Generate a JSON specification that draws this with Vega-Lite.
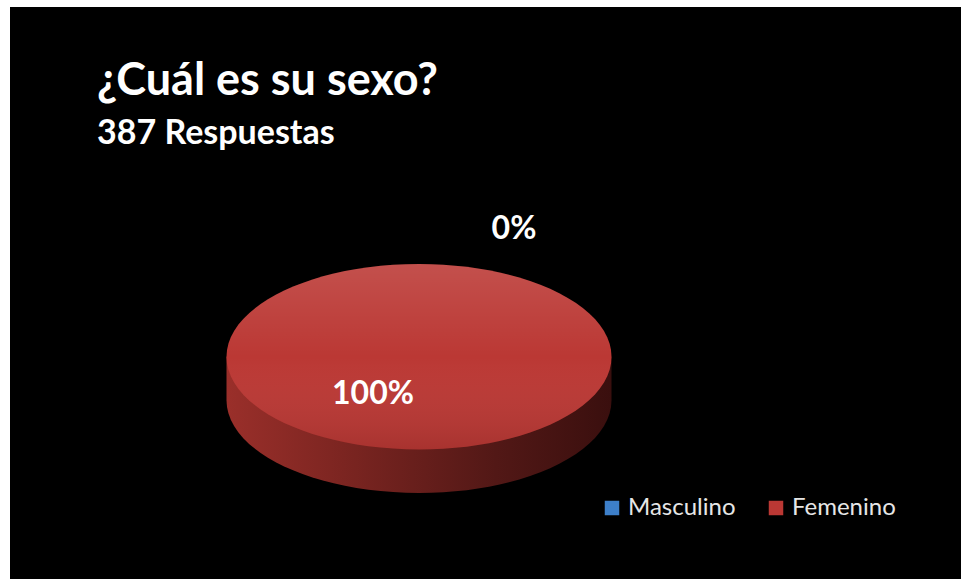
{
  "$schema": "https://vega.github.io/schema/vega-lite/v6.json",
  "width": 961,
  "height": 579,
  "autosize": {"type": "fit", "contains": "padding"},
  "padding": {"left": 10, "top": 7, "right": 0, "bottom": 0},
  "background": "white",
  "title": {
    "text": "¿Cuál es su sexo?",
    "subtitle": "387 Respuestas",
    "anchor": "start",
    "frame": "group",
    "orient": "top",
    "offset": -144,
    "dx": 87,
    "font": "Lato",
    "fontSize": 45,
    "fontWeight": "bold",
    "color": "white",
    "subtitleFont": "Lato",
    "subtitleFontSize": 34,
    "subtitleFontWeight": "bold",
    "subtitleColor": "white",
    "subtitlePadding": 13
  },
  "data": {
    "values": [
      {"sexo": "Masculino", "share": 0, "respuestas": 0},
      {"sexo": "Femenino", "share": 1, "respuestas": 387}
    ]
  },
  "layer": [
    {
      "transform": [{"filter": "datum.sexo == 'Femenino'"}],
      "mark": {"type": "rect", "fill": "black", "strokeWidth": 0},
      "encoding": {}
    },
    {
      "mark": {
        "type": "point",
        "shape": "M -1 0 L -1 0.226 C -1 0.4921 -0.5523 0.7078 0 0.7078 C 0.5523 0.7078 1 0.4921 1 0.226 L 1 0 Z",
        "filled": true,
        "opacity": 1,
        "strokeWidth": 0,
        "fill": {
          "gradient": "linear",
          "x1": 0, "y1": 0, "x2": 1, "y2": 0,
          "stops": [
            {"offset": 0, "color": "#9a2f2a"},
            {"offset": 0.3, "color": "#7c2521"},
            {"offset": 0.7, "color": "#521816"},
            {"offset": 1, "color": "#3a0f0e"}
          ]
        },
        "xOffset": -66.5,
        "yOffset": 63.75
      },
      "encoding": {
        "size": {"field": "share", "type": "quantitative", "scale": {"domain": [0, 1], "range": [0, 148225]}, "legend": null}
      }
    },
    {
      "mark": {
        "type": "point",
        "shape": "M -1 0 C -1 -0.2661 -0.5523 -0.4818 0 -0.4818 C 0.5523 -0.4818 1 -0.2661 1 0 C 1 0.2661 0.5523 0.4818 0 0.4818 C -0.5523 0.4818 -1 0.2661 -1 0 Z",
        "filled": true,
        "opacity": 1,
        "strokeWidth": 0,
        "xOffset": -66.5,
        "yOffset": 63.75
      },
      "encoding": {
        "size": {"field": "share", "type": "quantitative", "scale": {"domain": [0, 1], "range": [0, 148225]}, "legend": null},
        "color": {
          "field": "sexo",
          "type": "nominal",
          "scale": {
            "domain": ["Masculino", "Femenino"],
            "range": ["#3d7fc9", "#bb3834"]
          },
          "legend": {
            "title": null,
            "orient": "none",
            "legendX": 590,
            "legendY": 489,
            "direction": "horizontal",
            "symbolType": "square",
            "symbolSize": 210,
            "symbolStrokeWidth": 0,
            "symbolOpacity": 1,
            "labelFont": "Lato",
            "labelFontSize": 24,
            "labelColor": "#e6e6e6",
            "labelOffset": 4,
            "columnPadding": 28
          }
        }
      }
    },
    {
      "mark": {
        "type": "point",
        "shape": "M -1 0 C -1 -0.2661 -0.5523 -0.4818 0 -0.4818 C 0.5523 -0.4818 1 -0.2661 1 0 C 1 0.2661 0.5523 0.4818 0 0.4818 C -0.5523 0.4818 -1 0.2661 -1 0 Z",
        "filled": true,
        "opacity": 1,
        "strokeWidth": 0,
        "fill": {
          "gradient": "linear",
          "x1": 0, "y1": 0, "x2": 0, "y2": 1,
          "stops": [
            {"offset": 0, "color": "rgba(255,255,255,0.12)"},
            {"offset": 0.5, "color": "rgba(255,255,255,0)"},
            {"offset": 1, "color": "rgba(0,0,0,0.1)"}
          ]
        },
        "xOffset": -66.5,
        "yOffset": 63.75
      },
      "encoding": {
        "size": {"field": "share", "type": "quantitative", "scale": {"domain": [0, 1], "range": [0, 148225]}, "legend": null}
      }
    },
    {
      "transform": [{"filter": "datum.sexo == 'Femenino'"}],
      "mark": {"type": "text", "font": "Lato", "fontSize": 32, "fontWeight": "bold", "fill": "white", "align": "center", "baseline": "middle", "xOffset": -112.5, "yOffset": 101},
      "encoding": {"text": {"field": "share", "type": "quantitative", "format": ".0%"}}
    },
    {
      "transform": [{"filter": "datum.sexo == 'Masculino'"}],
      "mark": {"type": "text", "font": "Lato", "fontSize": 32, "fontWeight": "bold", "fill": "white", "align": "center", "baseline": "middle", "xOffset": 28.5, "yOffset": -64},
      "encoding": {"text": {"field": "share", "type": "quantitative", "format": ".0%"}}
    }
  ],
  "config": {"view": {"stroke": null}}
}
